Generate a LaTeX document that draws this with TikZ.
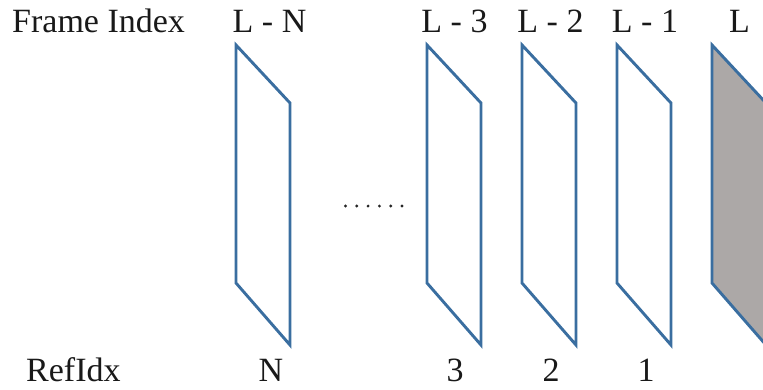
\documentclass[tikz,border=0pt]{standalone}
\usepackage{fontspec}
\setmainfont{Liberation Serif}
\definecolor{frameblue}{RGB}{58,110,160}
\definecolor{framegrey}{RGB}{172,168,167}
\begin{document}
\begin{tikzpicture}[x=1pt,y=-1pt,
  lbl/.style={inner sep=0pt,font=\fontsize{34}{40}\selectfont,text=black!90},
  frm/.style={draw=frameblue,line width=2.9pt,line join=miter}]
\useasboundingbox (0,0) rectangle (763,389);
\clip (0,0) rectangle (763,389);
% frames
\foreach \x/\n in {236/fN,427/f3,522/f2,617/f1}{
  \draw[frm] (\x,45) -- (\x+54,103) -- (\x+54,345) -- (\x,283) -- cycle;
}
\draw[frm,fill=framegrey] (712,45) -- (766,103) -- (766,345) -- (712,283) -- cycle;
% dots
\foreach \i in {0,...,5}{
  \fill[black!85] (345.5+\i*11.3,206) circle (1.6);
}
% top labels
\node[lbl,anchor=base west] (fi) at (12,32) {Frame Index};
\node[lbl,anchor=base] (tN) at (269.5,32) {L - N};
\node[lbl,anchor=base] (t3) at (454.5,32) {L - 3};
\node[lbl,anchor=base] (t2) at (550.5,32) {L - 2};
\node[lbl,anchor=base] (t1) at (645,32) {L - 1};
\node[lbl,anchor=base] (tL) at (739.5,32) {L};
% bottom labels
\node[lbl,anchor=base west] (ri) at (26,381) {RefIdx};
\node[lbl,anchor=base] (bN) at (271,381) {N};
\node[lbl,anchor=base] (b3) at (455,381) {3};
\node[lbl,anchor=base] (b2) at (551,381) {2};
\node[lbl,anchor=base] (b1) at (646,381) {1};
\end{tikzpicture}
\end{document}
